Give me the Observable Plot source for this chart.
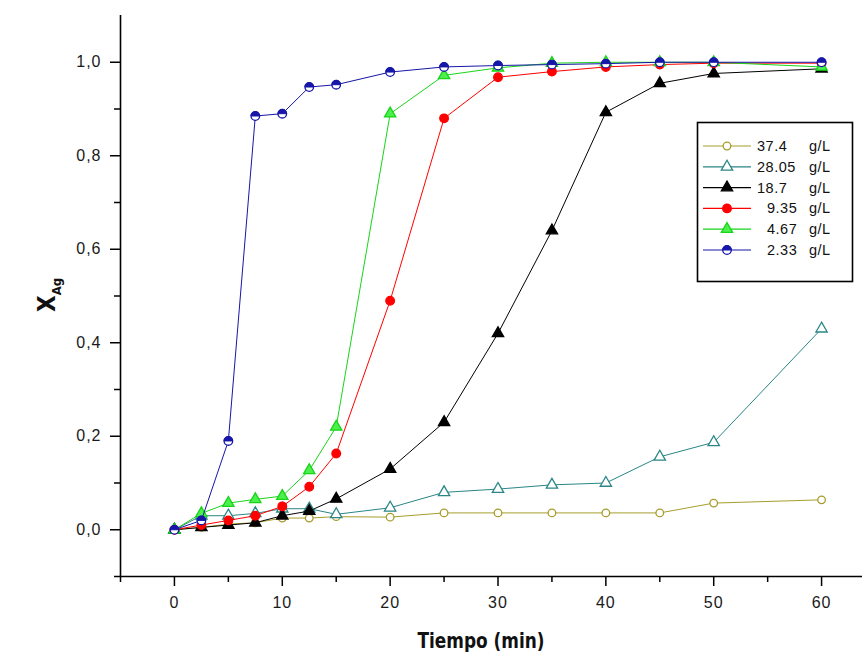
<!DOCTYPE html>
<html>
<head>
<meta charset="utf-8">
<script src="https://cdn.jsdelivr.net/npm/d3@7"></script>
<script src="https://cdn.jsdelivr.net/npm/@observablehq/plot@0.6"></script>
<style>
  html, body { margin: 0; padding: 0; background: #fff; }
  #chart svg { display: block; }
</style>
</head>
<body>
<div id="chart"></div>
<script>
// Sampling times (min)
const time = [0, 2.5, 5, 7.5, 10, 12.5, 15, 20, 25, 30, 35, 40, 45, 50, 60];

// Silver conversion X_Ag for each initial concentration
const x374  = [0, 0.005, 0.012, 0.015, 0.025, 0.025, 0.028, 0.027, 0.036, 0.036, 0.036, 0.036, 0.036, 0.057, 0.064];
const x2805 = [0, 0.030, 0.030, 0.035, 0.045, 0.045, 0.033, 0.047, 0.080, 0.087, 0.096, 0.100, 0.156, 0.187, 0.430];
const x187  = [0, 0.005, 0.010, 0.015, 0.030, 0.040, 0.066, 0.130, 0.230, 0.420, 0.640, 0.893, 0.955, 0.976, 0.986];
const x935  = [0, 0.010, 0.020, 0.030, 0.050, 0.092, 0.163, 0.490, 0.880, 0.968, 0.980, 0.990, 0.995, 0.998, 0.998];
const x467  = [0, 0.035, 0.057, 0.065, 0.072, 0.127, 0.220, 0.890, 0.972, 0.988, 0.998, 1.000, 1.000, 1.000, 0.990];
const x233  = [0, 0.020, 0.190, 0.885, 0.890, 0.947, 0.952, 0.979, 0.990, 0.993, 0.995, 0.997, 1.000, 1.000, 1.000];

const seriesLabels = ["37.4", "28.05", "18.7", "9.35", "4.67", "2.33"];
const seriesValues = [x374, x2805, x187, x935, x467, x233];
const unit = "g/L";

// Upper half of a disc, used for the 2.33 g/L marker
const halfDisc = {
  draw(context, size) {
    const r = Math.sqrt(size / Math.PI);
    context.moveTo(r, 0);
    context.arc(0, 0, r, 0, Math.PI, true);
    context.closePath();
  }
};

const styles = [
  {stroke: "#a89d2c", symbol: "circle",   fill: "white",   r: 3.8},
  {stroke: "#2a8686", symbol: "triangle", fill: "white",   r: 4.2},
  {stroke: "#000000", symbol: "triangle", fill: "#000000", r: 4.2},
  {stroke: "#ff0000", symbol: "circle",   fill: "#ff0000", r: 4.3},
  {stroke: "#19d419", symbol: "triangle", fill: "#4cf04c", r: 4.2},
  {stroke: "#1616a8", symbol: "circle",   fill: "white",   r: 4.3, half: true}
];

const rows = [];
seriesValues.forEach((vals, s) => {
  vals.forEach((v, i) => rows.push({series: s, t: time[i], x: v}));
});

const fmt = d => d3.format(".1f")(d).replace(".", ",");
const yMajor = [0, 0.2, 0.4, 0.6, 0.8, 1.0];
const yMinor = [-0.1, 0.1, 0.3, 0.5, 0.7, 0.9];
const xMajor = [0, 10, 20, 30, 40, 50, 60];
const xMinor = [-5, 5, 15, 25, 35, 45, 55];

const seriesMarks = styles.flatMap((st, s) => {
  const data = rows.filter(d => d.series === s);
  const marks = [
    Plot.line(data, {x: "t", y: "x", stroke: st.stroke, strokeWidth: 1}),
    Plot.dot(data, {x: "t", y: "x", symbol: st.symbol, r: st.r, fill: st.fill, stroke: st.stroke, strokeWidth: 1.3})
  ];
  if (st.half) {
    marks.push(Plot.dot(data, {x: "t", y: "x", symbol: halfDisc, r: st.r, fill: st.stroke, stroke: st.stroke, strokeWidth: 1}));
  }
  return marks;
});

const tickFont = {fontSize: 16, fontFamily: "'Liberation Sans', Arial, sans-serif"};

const chart = Plot.plot({
  width: 862,
  height: 657,
  marginLeft: 120,
  marginRight: 0,
  marginTop: 15,
  marginBottom: 81,
  style: {background: "white", color: "#1a1a1a", fontFamily: "'Liberation Sans', Arial, sans-serif", letterSpacing: "1px"},
  x: {domain: [-5, 65], range: [120, 875]},
  y: {domain: [-0.1, 1.1]},
  marks: [
    ...seriesMarks,
    // axis frame
    Plot.ruleY([-0.1], {stroke: "black", strokeWidth: 1.6}),
    Plot.ruleX([-5], {stroke: "black", strokeWidth: 1.6}),
    Plot.axisX(xMajor, {tickSize: 10, tickPadding: 10, tickFormat: d => String(d), label: null, stroke: "black", strokeWidth: 1.5, ...tickFont}),
    Plot.axisX(xMinor, {tickSize: 6, tickFormat: null, text: null, label: null, stroke: "black", strokeWidth: 1.5}),
    Plot.axisY(yMajor, {tickSize: 10, tickPadding: 9, tickFormat: fmt, label: null, stroke: "black", strokeWidth: 1.5, ...tickFont}),
    Plot.axisY(yMinor, {tickSize: 6, tickFormat: null, text: null, label: null, stroke: "black", strokeWidth: 1.5})
  ]
});

document.getElementById("chart").appendChild(chart);

const svg = d3.select(chart);
const titleFont = "'Liberation Sans Narrow', 'DejaVu Sans Condensed', 'Liberation Sans', sans-serif";

// Axis titles
svg.append("text")
  .attr("x", 481).attr("y", 648)
  .attr("text-anchor", "middle")
  .attr("font-family", titleFont)
  .attr("font-weight", "bold")
  .attr("font-size", 21)
  .attr("letter-spacing", 0)
  .attr("textLength", 127)
  .attr("lengthAdjust", "spacingAndGlyphs")
  .attr("fill", "#111")
  .text("Tiempo (min)");

const yTitle = svg.append("text")
  .attr("transform", "translate(55,312) rotate(-90)")
  .attr("text-anchor", "start")
  .attr("font-family", titleFont)
  .attr("font-weight", "bold")
  .attr("font-size", 24)
  .attr("letter-spacing", 0)
  .attr("fill", "#111");
yTitle.append("tspan").text("X");
yTitle.append("tspan").attr("font-size", 13).attr("dy", 6).text("Ag");

// Legend box
const lg = svg.append("g").attr("text-anchor", "start").attr("letter-spacing", 0.5);
lg.append("rect")
  .attr("x", 697.5).attr("y", 122.5).attr("width", 155).attr("height", 159)
  .attr("fill", "white").attr("stroke", "black").attr("stroke-width", 1.6);

const symbolType = {circle: d3.symbolCircle, triangle: d3.symbolTriangle};
seriesLabels.forEach((lab, s) => {
  const st = styles[s];
  const y = 146 + s * 20.8;
  lg.append("line")
    .attr("x1", 703).attr("x2", 751).attr("y1", y).attr("y2", y)
    .attr("stroke", st.stroke).attr("stroke-width", 1.2);
  const size = Math.PI * st.r * st.r;
  lg.append("path")
    .attr("transform", `translate(727,${y})`)
    .attr("d", d3.symbol(symbolType[st.symbol], size)())
    .attr("fill", st.fill).attr("stroke", st.stroke).attr("stroke-width", 1.3);
  if (st.half) {
    lg.append("path")
      .attr("transform", `translate(727,${y})`)
      .attr("d", d3.symbol(halfDisc, size)())
      .attr("fill", st.stroke).attr("stroke", st.stroke);
  }
  const num = +lab;
  lg.append("text")
    .attr("x", num < 10 ? 767 : 757).attr("y", y + 5)
    .attr("font-family", "'Liberation Sans', Arial, sans-serif")
    .attr("font-size", 14.5).attr("fill", "#111")
    .text(lab);
  lg.append("text")
    .attr("x", 809).attr("y", y + 5)
    .attr("font-family", "'Liberation Sans', Arial, sans-serif")
    .attr("font-size", 14.5).attr("fill", "#111")
    .text(unit);
});
</script>
</body>
</html>
